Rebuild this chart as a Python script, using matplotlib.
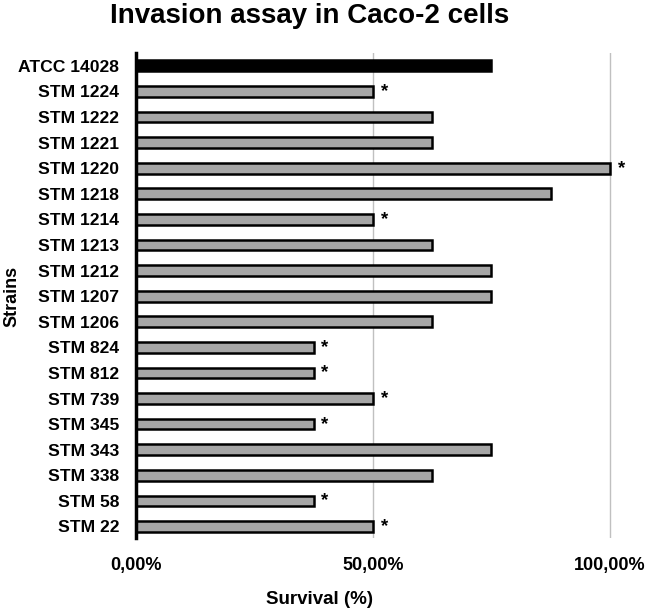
import matplotlib.pyplot as plt
import numpy as np
from matplotlib.ticker import FuncFormatter

plt.rcParams['font.family'] = ['Liberation Sans', 'DejaVu Sans']
plt.rcParams['font.weight'] = 'bold'

strains = ['ATCC 14028', 'STM 1224', 'STM 1222', 'STM 1221', 'STM 1220', 'STM 1218',
           'STM 1214', 'STM 1213', 'STM 1212', 'STM 1207', 'STM 1206', 'STM 824',
           'STM 812', 'STM 739', 'STM 345', 'STM 343', 'STM 338', 'STM 58', 'STM 22']
survival = [0.75, 0.50, 0.625, 0.625, 1.00, 0.875,
            0.50, 0.625, 0.75, 0.75, 0.625, 0.375,
            0.375, 0.50, 0.375, 0.75, 0.625, 0.375, 0.50]
significant = [False, True, False, False, True, False,
               True, False, False, False, False, True,
               True, True, True, False, False, True, True]

fig = plt.figure(figsize=(6.46, 6.15), dpi=100)
ax = fig.add_axes([136 / 646, 1 - 538 / 615, 1 - 136 / 646, (538 - 53) / 615])

y = np.arange(len(strains))
colors = ['black'] + ['#a6a6a6'] * (len(strains) - 1)
ax.barh(y, survival, height=0.42, color=colors, edgecolor='black', linewidth=1.8, zorder=3)

for yi, v, s in zip(y, survival, significant):
    if s:
        ax.text(v + 0.016, yi, '*', ha='left', va='center', fontsize=13.5,
                fontweight='bold', zorder=4)

ax.set_ylim(len(strains) - 0.55, -0.5)
ax.set_xlim(0, 1.076)
ax.set_yticks(y)
ax.set_yticklabels(strains, fontsize=12.6, fontweight='bold')
ax.set_xticks([0, 0.5, 1.0])
ax.xaxis.set_major_formatter(FuncFormatter(lambda v, p: '{:.2f}%'.format(v * 100).replace('.', ',')))
for lab in ax.get_xticklabels():
    lab.set_fontsize(13)
    lab.set_fontweight('bold')

ax.tick_params(axis='both', length=0)
ax.tick_params(axis='y', pad=12)
ax.tick_params(axis='x', pad=14)
ax.grid(axis='x', color='#c0c0c0', linewidth=1, zorder=0)
ax.set_axisbelow(True)
for side in ['top', 'right', 'bottom']:
    ax.spines[side].set_visible(False)
ax.spines['left'].set_linewidth(2.5)
ax.spines['left'].set_zorder(5)

fig.text(310 / 646, 1 - 23 / 615, 'Invasion assay in Caco-2 cells', ha='center', va='baseline',
         fontsize=20, fontweight='bold')
fig.text(320 / 646, 1 - 600 / 615, 'Survival (%)', ha='center', va='center',
         fontsize=13.5, fontweight='bold')
fig.text(12 / 646, 1 - 296 / 615, 'Strains', ha='center', va='center', rotation=90,
         fontsize=13, fontweight='bold')

plt.savefig('out.png', dpi=100)
